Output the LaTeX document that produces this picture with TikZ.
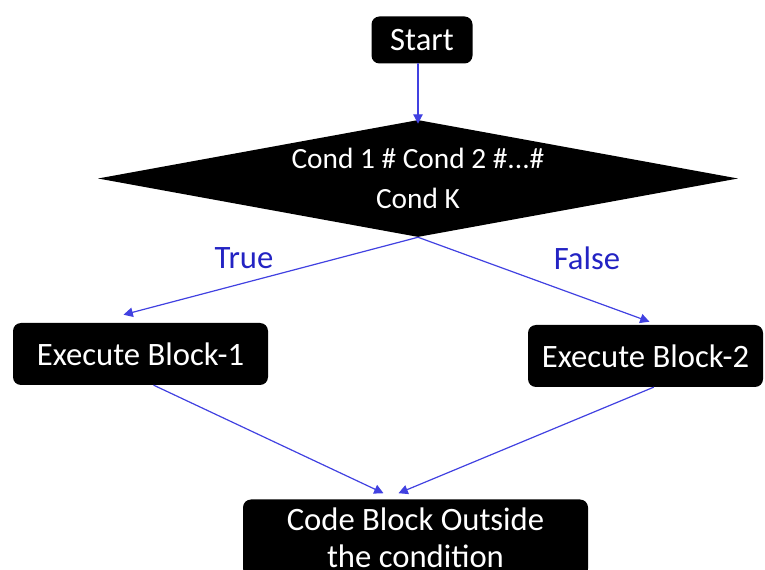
\documentclass[tikz,border=0pt]{standalone}
\usepackage{fontspec}
\setmainfont{Carlito}
\usetikzlibrary{shapes.geometric,arrows.meta}
\definecolor{linkblue}{RGB}{65,65,225}
\definecolor{labelblue}{RGB}{35,35,195}
\begin{document}
\begin{tikzpicture}[x=0.75pt,y=-0.75pt,line join=round,line cap=round,
		>={Triangle[length=7pt,width=7pt]},
		font=\fontsize{24.5}{30.5}\selectfont,
		box/.style={fill=black,text=white,rounded corners=6pt,inner sep=0pt,align=center},
		link/.style={->,draw=linkblue,line width=0.9pt},
		branch/.style={text=labelblue}]
		\useasboundingbox (0,0) rectangle (765,570);
		\clip (0,0) rectangle (765,570);
		\node[box,minimum width=75.75pt,minimum height=35.25pt] (start) at (422,40) {Start};
		\node[diamond,fill=black,text=white,inner sep=0pt,aspect=5.5,align=center,
			minimum width=480pt,minimum height=87.75pt,font=\fontsize{22}{30.5}\selectfont] (cond) at (418,178.5) {Cond 1 \# Cond 2 \#.{}.{}.\#\\Cond K};
		\node[box,minimum width=191.25pt,minimum height=46.5pt] (blockA) at (140.5,354) {Execute Block-1};
		\node[box,minimum width=176.25pt,minimum height=46.5pt] (blockB) at (645.5,356) {Execute Block-2};
		\node[box,minimum width=258.75pt,minimum height=57.75pt,font=\fontsize{24.5}{28}\selectfont] (after) at (415.5,538) {Code Block Outside\\the condition};
		\node[branch] (true) at (244,258) {True};
		\node[branch] (false) at (587,258) {False};
		% flow
		\draw[link] (cond.north |- start.south) -- ([yshift=-3]cond.north);
		\draw[link] (cond.south) -- ([shift={(-17,-8)}]blockA.north);
		\draw[link] (cond.south) -- ([shift={(4,-3)}]blockB.north);
		\draw[link] ([xshift=10]blockA.south) -- ([shift={(-32,-6)}]after.north);
		\draw[link] ([xshift=6]blockB.south) -- ([shift={(-17,-6)}]after.north);
\end{tikzpicture}
\end{document}
